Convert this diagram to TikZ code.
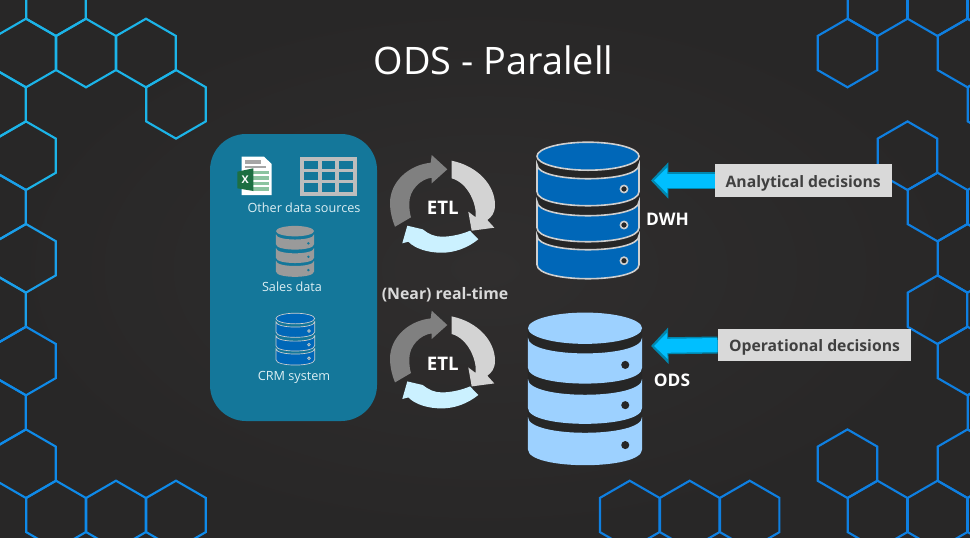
\documentclass[tikz,border=0pt]{standalone}
\usepackage{fontspec}
\setmainfont{Open Sans}
\usetikzlibrary{arrows.meta, shapes.geometric}
\definecolor{bgmid}{HTML}{302E2E}
\definecolor{bgedge}{HTML}{282727}
\definecolor{hexcyan}{HTML}{1CB4E8}
\definecolor{hexsky}{HTML}{1A9FEA}
\definecolor{hexblue}{HTML}{0F8AE8}
\definecolor{hexdeep}{HTML}{0F7FE0}
\definecolor{panelfill}{HTML}{14779A}
\definecolor{dwhfill}{HTML}{0067B8}
\definecolor{odsfill}{HTML}{9DD1FF}
\definecolor{salesfill}{HTML}{9A9A9A}
\definecolor{dbrim}{HTML}{CFCFCF}
\definecolor{dbgap}{HTML}{262626}
\definecolor{tablegrey}{HTML}{BDBDBD}
\definecolor{xlgreen}{HTML}{1D6F42}
\definecolor{xlcell}{HTML}{8CC4A0}
\definecolor{xlgrey}{HTML}{A6A6A6}
\definecolor{ringdark}{HTML}{808080}
\definecolor{ringlight}{HTML}{D3D3D3}
\definecolor{ringcyan}{HTML}{CBF1FF}
\definecolor{boxfill}{HTML}{D9D9D9}
\definecolor{boxtext}{HTML}{404040}
\definecolor{arrfill}{HTML}{00BFFF}
\definecolor{arredge}{HTML}{0088B0}
\definecolor{srctext}{HTML}{DCEEF3}

\begin{document}
\begin{tikzpicture}[
  x=0.75pt, y=-0.75pt,
  hexcell/.style={regular polygon, regular polygon sides=6, shape border rotate=30,
              minimum size=51.45pt, inner sep=0pt, outer sep=0pt, line width=1.6pt},
  decision/.style={rectangle, fill=boxfill, text=boxtext, inner sep=0pt, text height=10pt,
              text depth=0pt, minimum height=24.5pt, font=\fontsize{11.8}{14}\selectfont\bfseries},
  srclab/.style={text=srctext, inner sep=0pt, font=\fontsize{9.5}{11}\selectfont},
  dblab/.style={text=white, inner sep=0pt, font=\fontsize{13}{16}\selectfont\bfseries},
  etllab/.style={text=white, inner sep=0pt, font=\fontsize{14}{16}\selectfont\bfseries},
  arrrim/.style={draw=arredge, line width=12.75pt, -{Triangle[length=13pt, width=26.5pt]}},
  arrcore/.style={draw=arrfill, line width=10.5pt, -{Triangle[length=10pt, width=19pt]}},
  pics/dbstack/.style n args={4}{code={
    \fill[#4] (-51,14.5) -- (-51,123) .. controls (-51,141.7) and (51,141.7) .. (51,123) -- (51,14.5) -- cycle;
    \foreach \dtop/\dbot in {23/50, 60/86, 94/123}
      \draw[fill=#1, draw=#2, line width=#3]
        (-51,\dtop) .. controls (-51,\dtop+18.7) and (51,\dtop+18.7) .. (51,\dtop)
        -- (51,\dbot) .. controls (51,\dbot+18.7) and (-51,\dbot+18.7) .. (-51,\dbot) -- cycle;
    \draw[fill=#1, draw=#2, line width=#3] (0,14.5) ellipse [x radius=51, y radius=14];
    \foreach \hy in {47.3, 83.3, 119}
      \draw[fill=#4, draw=#2, line width=#3] (36,\hy) circle [radius=3.6];
  }},
  pics/etlring/.style={code={
    \fill[ringdark] (-47.5,26.7) .. controls (-51,18) and (-52.5,10) .. (-52.5,3)
      .. controls (-52.5,-18) and (-34,-35) .. (-11.8,-37.3) -- (-10.8,-45) -- (4.8,-30.7)
      -- (-10.8,-16.7) -- (-10.8,-22.3) .. controls (-22,-21) and (-33.2,-10) .. (-33.2,3)
      .. controls (-33.2,8) and (-33,13) .. (-31.5,17.3) -- cycle;
    \fill[ringlight] (9.2,-39.3) .. controls (35,-34) and (52.5,-15) .. (52.5,5)
      .. controls (52.5,13) and (49,17) .. (44.8,20) -- (51.8,27.7) -- (29.2,30.7)
      -- (25.8,11.7) -- (33.2,17.3) .. controls (34.5,5) and (26,-17) .. (9.2,-21.7) -- cycle;
    \fill[ringcyan] (35.8,39.3) .. controls (25,48) and (12,52.7) .. (-0.8,52.7)
      .. controls (-14,52.7) and (-27,49) .. (-34.2,41.7) -- (-40.2,43.3) -- (-35.2,25.7)
      -- (-19.8,29.3) .. controls (-14,34) and (-8,36.7) .. (-0.8,36.7)
      .. controls (9,36.7) and (20,34) .. (27.5,30.7) -- cycle;
  }},
]
\useasboundingbox (0,0) rectangle (970,537);
\clip (0,0) rectangle (970,537);
% ================= background and honeycomb =================
\shade[inner color=bgmid, outer color=bgedge] (0,0) rectangle (970,537);
\foreach \cx/\cy [count=\n] in {56/1.7, 26/53, 86/53, 146/53, 176/104.3, -4/104.3, 26/155.7}
  \node[hexcell, draw=hexcyan] (hexa\n) at (\cx,\cy) {};
\foreach \cx/\cy [count=\n] in {-4/207, 26/258.3, -4/309.7}
  \node[hexcell, draw=hexsky] (hexb\n) at (\cx,\cy) {};
\foreach \cx/\cy [count=\n] in {26/361, -4/412.3, 26/463.7, 56/515, 116/515, 176/515}
  \node[hexcell, draw=hexblue] (hexc\n) at (\cx,\cy) {};
\foreach \cx/\cy [count=\n] in {877.5/1.7, 937.5/1.7, 997.5/1.7, 847.5/53, 967.5/53, 997.5/104.3,
    907.5/155.7, 937.5/207, 997.5/207, 967.5/258.3, 937.5/309.7, 967.5/361, 997.5/412.3,
    967.5/463.7, 847.5/463.7, 877.5/515, 937.5/515, 997.5/515, 629.7/515, 689.7/515, 749.7/515}
  \node[hexcell, draw=hexdeep] (hexd\n) at (\cx,\cy) {};
% ================= source panel =================
\fill[panelfill, rounded corners=27pt] (210,134) rectangle (377,421);
% sheet icon
\fill[white] (241.7,156.7) -- (264,156.7) -- (271.7,164) -- (271.7,195) -- (241.7,195) -- cycle;
\fill[xlgrey] (244.5,160) rectangle (261,163.5);
\fill[xlgrey] (244.5,165.5) rectangle (266,168);
\foreach \ry in {170.5, 176, 181.5, 187}
  \fill[xlcell] (253,\ry) rectangle (269,\ry+3.5);
\fill[xlgreen] (237.3,171.7) -- (253.3,168.3) -- (253.3,191) -- (237.3,188.3) -- cycle;
\node[text=white, inner sep=0pt, font=\fontsize{8}{9}\selectfont\bfseries] (xlmark) at (245.3,179.7) {X};
% table icon
\draw[tablegrey, line width=3pt] (302.3,158.5) rectangle (354.7,193.5);
\draw[tablegrey, line width=2.4pt] (320,158.5) -- (320,193.5) (337,158.5) -- (337,193.5)
  (302.3,170.3) -- (354.7,170.3) (302.3,181.7) -- (354.7,181.7);
\node[srclab] (otherlab) at (304,208) {Other data sources};
\pic (salesdb) [scale=0.373] at (295,225.7) {dbstack={salesfill}{none}{0pt}{panelfill}};
\node[srclab] (saleslab) at (292,287) {Sales data};
\pic (crmdb) [scale=0.38] at (295.3,313) {dbstack={dwhfill}{dbrim}{0.5pt}{panelfill}};
\node[srclab] (crmlab) at (294,377.5) {CRM system};
% ================= ETL rings =================
\pic (etlup) at (442.5,200) {etlring};
\node[etllab] (etlupl) at (442.7,208) {ETL};
\pic (etllow) at (442.5,355.7) {etlring};
\node[etllab] (etllowl) at (442.7,364) {ETL};
\node[text=boxfill, inner sep=0pt, font=\fontsize{11.9}{13}\selectfont\bfseries] (nearlab) at (445,294.5) {(Near) real-time};
% ================= warehouses =================
\pic (dwhdb) at (588,141.7) {dbstack={dwhfill}{dbrim}{1.2pt}{dbgap}};
\node[dblab] (dwhlab) at (667.5,219) {DWH};
\pic (odsdb) [scale=1.118] at (585,312) {dbstack={odsfill}{none}{0pt}{dbgap}};
\node[dblab] (odslab) at (672,380) {ODS};
% ================= decision boxes =================
\node[decision, minimum width=132.5pt] (analytic) at (803.2,180.5) {Analytical decisions};
\node[decision, minimum width=145pt] (operat) at (814.5,345) {Operational decisions};
\coordinate (dwhport) at (651,180.5);
\coordinate (odsport) at (651,346);
\coordinate (dwhcore) at (654,180.5);
\coordinate (odscore) at (654,346);
\draw[arrrim] (analytic.west) -- (dwhport);
\draw[arrcore] (analytic.west) -- (dwhcore);
\draw[arrrim] (operat.west) -- (odsport);
\draw[arrcore] (operat.west) -- (odscore);
% ================= title =================
\node[text=white, inner sep=0pt, font=\fontsize{28.4}{32}\selectfont] (title) at (493.5,60) {ODS - Paralell};
\end{tikzpicture}
\end{document}
